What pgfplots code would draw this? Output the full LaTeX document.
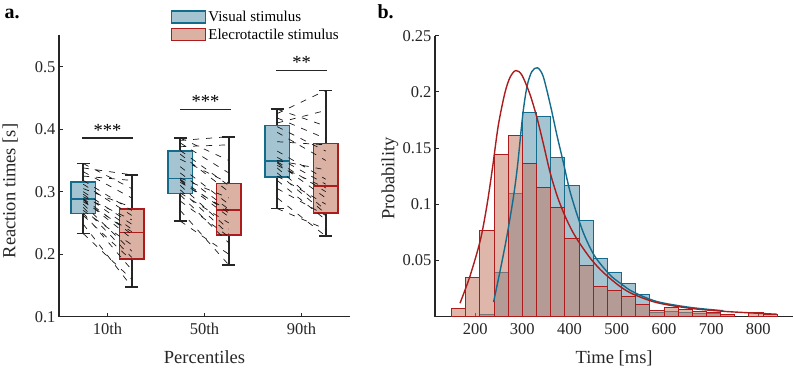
\documentclass[border=0pt]{standalone}
\usepackage{pgfplots}
\pgfplotsset{compat=1.18}
\usepackage{fontspec}
\setmainfont{Liberation Serif}

\definecolor{visedge}{RGB}{20,108,140}
\definecolor{visfill}{RGB}{164,196,210}
\definecolor{eledge}{RGB}{172,28,28}
\definecolor{elfill}{RGB}{219,177,163}
\definecolor{elface}{RGB}{196,122,100}
\definecolor{axgray}{RGB}{38,38,38}

\pgfplotsset{
  panel/.style={
    scale only axis,
    axis lines=left,
    axis line style={-, axgray, line width=1.1pt},
    tick align=inside,
    tick style={axgray, line width=1.1pt},
    major tick length=4pt,
    /pgf/number format/assume math mode=true,
    tick label style={font=\fontsize{16.5}{19}\selectfont, text=axgray},
    xticklabel style={yshift=-3pt},
    label style={font=\fontsize{18.5}{22}\selectfont, text=axgray},
    scaled ticks=false,
    clip=false,
  },
  visbox/.style={forget plot, draw=visedge, fill=visfill, line width=1.6pt},
  elbox/.style={forget plot, draw=eledge, fill=elfill, line width=1.6pt},
  vismed/.style={forget plot, visedge, line width=1.5pt},
  elmed/.style={forget plot, eledge, line width=1.5pt},
  whisk/.style={forget plot, axgray, line width=1.6pt, unbounded coords=jump},
  pairs/.style={forget plot, black!90, line width=0.7pt, dash pattern=on 6pt off 7pt, unbounded coords=jump},
  sigbar/.style={forget plot, axgray, line width=1.2pt},
}

\begin{document}
\begin{tikzpicture}
\useasboundingbox (0,0) rectangle (794pt,368pt);

% ---------------- panel a: reaction-time percentiles ----------------
\begin{axis}[panel,
  at={(59pt,51.3pt)}, anchor=south west,
  width=291pt, height=281.25pt,
  xmin=0.5, xmax=3.5, ymin=0.1, ymax=0.55,
  xtick={1,2,3}, xticklabels={10th,50th,90th},
  ytick={0.1,0.2,0.3,0.4,0.5},
  xlabel={Percentiles}, ylabel={Reaction times [s]},
  xlabel style={at={(axis description cs:0.5,-0.1657)}, anchor=base},
  ylabel style={at={(axis description cs:-0.168,0.447)}, anchor=center},
  legend style={at={(axis description cs:0.384,1.095)}, anchor=north west,
    draw=none, fill=none, inner sep=0pt, row sep=2pt,
    font=\fontsize{15}{18}\selectfont},
  legend cell align=left,
]
\addlegendimage{legend image code/.code={\draw[draw=visedge, fill=visfill, line width=1.4pt] (0pt,-6pt) rectangle (34pt,6pt);}}
\addlegendentry{Visual stimulus}
\addlegendimage{legend image code/.code={\draw[draw=eledge, fill=elfill, line width=1.4pt] (0pt,-6pt) rectangle (34pt,6pt);}}
\addlegendentry{Elecrotactile stimulus}

% whiskers: (position, lower/upper whisker) with caps
\addplot[whisk] coordinates {
(0.75,0.233) (0.75,0.265) (0,nan) (0.75,0.316) (0.75,0.345) (0,nan)
(0.685,0.233) (0.815,0.233) (0,nan) (0.685,0.345) (0.815,0.345) (0,nan)
(1.25,0.148) (1.25,0.192) (0,nan) (1.25,0.272) (1.25,0.327) (0,nan)
(1.185,0.148) (1.315,0.148) (0,nan) (1.185,0.327) (1.315,0.327) (0,nan)
(1.75,0.253) (1.75,0.297) (0,nan) (1.75,0.365) (1.75,0.386) (0,nan)
(1.685,0.253) (1.815,0.253) (0,nan) (1.685,0.386) (1.815,0.386) (0,nan)
(2.25,0.183) (2.25,0.231) (0,nan) (2.25,0.313) (2.25,0.388) (0,nan)
(2.185,0.183) (2.315,0.183) (0,nan) (2.185,0.388) (2.315,0.388) (0,nan)
(2.75,0.273) (2.75,0.324) (0,nan) (2.75,0.406) (2.75,0.432) (0,nan)
(2.685,0.273) (2.815,0.273) (0,nan) (2.685,0.432) (2.815,0.432) (0,nan)
(3.25,0.229) (3.25,0.266) (0,nan) (3.25,0.377) (3.25,0.462) (0,nan)
(3.185,0.229) (3.315,0.229) (0,nan) (3.185,0.462) (3.315,0.462)
};

% boxes: lower quartile to upper quartile
\addplot[visbox] coordinates {(0.625,0.265) (0.875,0.265) (0.875,0.316) (0.625,0.316)} -- cycle;
\addplot[elbox]  coordinates {(1.125,0.192) (1.375,0.192) (1.375,0.272) (1.125,0.272)} -- cycle;
\addplot[visbox] coordinates {(1.625,0.297) (1.875,0.297) (1.875,0.365) (1.625,0.365)} -- cycle;
\addplot[elbox]  coordinates {(2.125,0.231) (2.375,0.231) (2.375,0.313) (2.125,0.313)} -- cycle;
\addplot[visbox] coordinates {(2.625,0.324) (2.875,0.324) (2.875,0.406) (2.625,0.406)} -- cycle;
\addplot[elbox]  coordinates {(3.125,0.266) (3.375,0.266) (3.375,0.377) (3.125,0.377)} -- cycle;

% medians
\addplot[vismed] coordinates {(0.625,0.288) (0.875,0.288)};
\addplot[elmed]  coordinates {(1.125,0.235) (1.375,0.235)};
\addplot[vismed] coordinates {(1.625,0.321) (1.875,0.321)};
\addplot[elmed]  coordinates {(2.125,0.271) (2.375,0.271)};
\addplot[vismed] coordinates {(2.625,0.349) (2.875,0.349)};
\addplot[elmed]  coordinates {(3.125,0.309) (3.375,0.309)};

% paired subjects, visual -> electrotactile
\addplot[pairs] coordinates {
(0.75,0.233) (1.25,0.160) (1,nan) (0.75,0.248) (1.25,0.148) (1,nan)
(0.75,0.262) (1.25,0.190) (1,nan) (0.75,0.266) (1.25,0.175) (1,nan)
(0.75,0.270) (1.25,0.215) (1,nan) (0.75,0.275) (1.25,0.195) (1,nan)
(0.75,0.280) (1.25,0.205) (1,nan) (0.75,0.284) (1.25,0.236) (1,nan)
(0.75,0.287) (1.25,0.225) (1,nan) (0.75,0.289) (1.25,0.232) (1,nan)
(0.75,0.292) (1.25,0.255) (1,nan) (0.75,0.296) (1.25,0.240) (1,nan)
(0.75,0.300) (1.25,0.248) (1,nan) (0.75,0.305) (1.25,0.275) (1,nan)
(0.75,0.312) (1.25,0.262) (1,nan) (0.75,0.318) (1.25,0.270) (1,nan)
(0.75,0.325) (1.25,0.318) (1,nan) (0.75,0.332) (1.25,0.290) (1,nan)
(0.75,0.338) (1.25,0.327) (1,nan) (0.75,0.345) (1.25,0.305)
};
\addplot[pairs] coordinates {
(1.75,0.253) (2.25,0.200) (2,nan) (1.75,0.270) (2.25,0.183) (2,nan)
(1.75,0.285) (2.25,0.228) (2,nan) (1.75,0.295) (2.25,0.218) (2,nan)
(1.75,0.298) (2.25,0.250) (2,nan) (1.75,0.303) (2.25,0.232) (2,nan)
(1.75,0.310) (2.25,0.240) (2,nan) (1.75,0.315) (2.25,0.270) (2,nan)
(1.75,0.318) (2.25,0.260) (2,nan) (1.75,0.320) (2.25,0.266) (2,nan)
(1.75,0.322) (2.25,0.290) (2,nan) (1.75,0.330) (2.25,0.272) (2,nan)
(1.75,0.340) (2.25,0.280) (2,nan) (1.75,0.352) (2.25,0.314) (2,nan)
(1.75,0.360) (2.25,0.300) (2,nan) (1.75,0.366) (2.25,0.310) (2,nan)
(1.75,0.372) (2.25,0.375) (2,nan) (1.75,0.378) (2.25,0.330) (2,nan)
(1.75,0.382) (2.25,0.388) (2,nan) (1.75,0.386) (2.25,0.350)
};
\addplot[pairs] coordinates {
(2.75,0.273) (3.25,0.240) (3,nan) (2.75,0.290) (3.25,0.229) (3,nan)
(2.75,0.305) (3.25,0.262) (3,nan) (2.75,0.318) (3.25,0.255) (3,nan)
(2.75,0.325) (3.25,0.280) (3,nan) (2.75,0.330) (3.25,0.265) (3,nan)
(2.75,0.338) (3.25,0.270) (3,nan) (2.75,0.342) (3.25,0.306) (3,nan)
(2.75,0.346) (3.25,0.290) (3,nan) (2.75,0.348) (3.25,0.300) (3,nan)
(2.75,0.350) (3.25,0.335) (3,nan) (2.75,0.355) (3.25,0.312) (3,nan)
(2.75,0.365) (3.25,0.320) (3,nan) (2.75,0.380) (3.25,0.375) (3,nan)
(2.75,0.395) (3.25,0.350) (3,nan) (2.75,0.404) (3.25,0.365) (3,nan)
(2.75,0.410) (3.25,0.430) (3,nan) (2.75,0.418) (3.25,0.385) (3,nan)
(2.75,0.425) (3.25,0.462) (3,nan) (2.75,0.432) (3.25,0.405)
};

% significance bars
\addplot[sigbar] coordinates {(0.74,0.386) (1.26,0.386)};
\addplot[sigbar] coordinates {(1.75,0.432) (2.27,0.432)};
\addplot[sigbar] coordinates {(2.74,0.494) (3.26,0.494)};
\node[anchor=base, font=\fontsize{18.5}{20}\selectfont] at (axis cs:1,0.389) {***};
\node[anchor=base, font=\fontsize{18.5}{20}\selectfont] at (axis cs:2.01,0.435) {***};
\node[anchor=base, font=\fontsize{18.5}{20}\selectfont] at (axis cs:3,0.497) {**};
\end{axis}

% ---------------- panel b: reaction-time distributions ----------------
\begin{axis}[panel,
  at={(435pt,51.3pt)}, anchor=south west,
  width=358.3pt, height=281pt,
  xmin=115, xmax=874, ymin=0, ymax=0.25,
  xtick={200,300,...,800},
  ytick={0.05,0.1,0.15,0.2,0.25},
  yticklabel style={/pgf/number format/fixed},
  xlabel={Time [ms]}, ylabel={Probability},
  xlabel style={at={(axis description cs:0.5,-0.1657)}, anchor=base},
  ylabel style={at={(axis description cs:-0.1256,0.492)}, anchor=center},
]
% visual histogram (30 ms bins)
\addplot[ybar interval, draw=visedge, fill=visfill, line width=0.9pt, forget plot] coordinates {
(210,0.002) (240,0.039) (270,0.110) (300,0.182) (330,0.178) (360,0.142)
(390,0.117) (420,0.086) (450,0.052) (480,0.039) (510,0.0295) (540,0.0195)
(570,0.0035) (600,0.0045) (630,0.004) (660,0.003) (690,0.003) (720,0.002)
(750,0)
};
% electrotactile histogram
\addplot[ybar interval, draw=eledge, fill=elface, fill opacity=0.55, line width=0.9pt, forget plot] coordinates {
(150,0.0075) (180,0.035) (210,0.0765) (240,0.144) (270,0.161) (300,0.136)
(330,0.115) (360,0.097) (390,0.070) (420,0.046) (450,0.0267) (480,0.0237)
(510,0.0182) (540,0.011) (570,0.0055) (600,0.0083) (630,0.0068) (660,0.0044)
(690,0.0038) (720,0.0024) (750,0)
};
\addplot[ybar interval, draw=eledge, fill=elface, fill opacity=0.55, line width=0.9pt, forget plot] coordinates {
(780,0.0035) (810,0.002) (840,0)
};
% fitted densities
\addplot[visedge, line width=1.4pt, smooth, forget plot] coordinates {
(239,0.013) (253,0.041) (267,0.071) (281,0.106) (290,0.135) (301,0.180)
(310,0.205) (320,0.218) (332,0.2215) (344,0.214) (359,0.189) (373,0.162)
(387,0.137) (400,0.113) (415,0.092) (429,0.075) (444,0.061) (458,0.051)
(486,0.037) (510,0.029) (535,0.022) (585,0.0135) (655,0.0083) (726,0.0053)
};
\addplot[eledge, line width=1.4pt, smooth, forget plot] coordinates {
(168,0.012) (189,0.036) (211,0.068) (225,0.099) (237,0.133) (249,0.170)
(263,0.199) (274,0.213) (286,0.219) (299,0.215) (316,0.198) (331,0.177)
(345,0.153) (359,0.128) (375,0.106) (391,0.089) (406,0.076) (422,0.065)
(444,0.052) (465,0.042) (486,0.034) (510,0.026) (535,0.020) (585,0.0125)
(655,0.0075) (726,0.0048) (797,0.0031) (839,0.0022)
};
\end{axis}

\node[anchor=base west, font=\fontsize{20}{24}\selectfont\bfseries] at (1pt,349.7pt) {a.};
\node[anchor=base west, font=\fontsize{20}{24}\selectfont\bfseries] at (374pt,349.7pt) {b.};
\end{tikzpicture}
\end{document}
